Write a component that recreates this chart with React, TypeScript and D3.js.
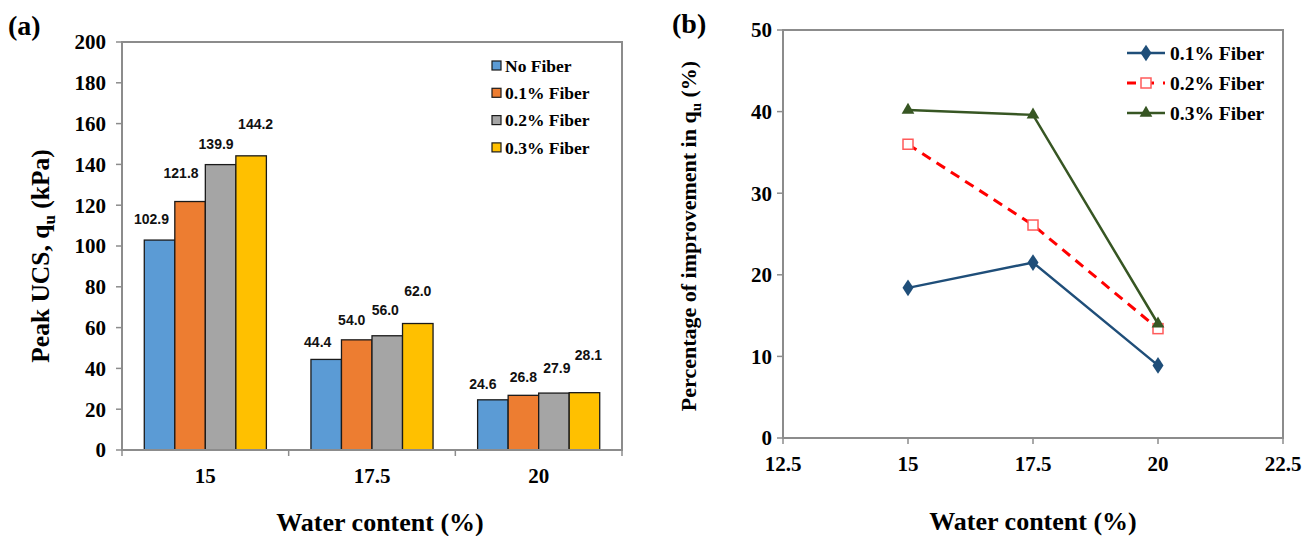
import React from "react";
import * as d3 from "d3";

// ---------- Data ----------
const categoriesA = ["15", "17.5", "20"];
const seriesA = ["No Fiber", "0.1% Fiber", "0.2% Fiber", "0.3% Fiber"];
const noFiber = [102.9, 44.4, 24.6];
const fiber01 = [121.8, 54.0, 26.8];
const fiber02 = [139.9, 56.0, 27.9];
const fiber03 = [144.2, 62.0, 28.1];
const valuesA = [noFiber, fiber01, fiber02, fiber03];
const yTicksA = [0, 20, 40, 60, 80, 100, 120, 140, 160, 180, 200];

const waterB = [15, 17.5, 20];
const impr01 = [18.4, 21.5, 8.9];
const impr02 = [36.0, 26.1, 13.4];
const impr03 = [40.2, 39.6, 14.0];
const seriesB = ["0.1% Fiber", "0.2% Fiber", "0.3% Fiber"];
const xTicksB = [12.5, 15, 17.5, 20, 22.5];
const yTicksB = [0, 10, 20, 30, 40, 50];

// ---------- Styles ----------
const colorsA = ["#5B9BD5", "#ED7D31", "#A5A5A5", "#FFC000"];
const colorsB = ["#1F4E79", "#FF0000", "#375623"];
// label nudges [series][category] (dx, dy of label center from bar top center)
const labelDx = [[-8, -8.5, -10], [-9, -5, 0], [-4.5, -2, 3], [4.5, 0, 4]];
const labelDy = [[-21, -17, -16], [-28, -20, -18], [-21, -26, -25], [-32, -32, -38]];

const SERIF = "'Liberation Serif', 'Times New Roman', serif";
const SANS = "'Liberation Sans', Arial, sans-serif";
const FRAME = "#8c8c8c";

export default function App() {
  // Panel A scales
  const xA = d3.scaleBand().domain(categoriesA).range([122, 622]).padding(0);
  const xS = d3.scaleBand().domain(seriesA).range([0, xA.bandwidth()]).paddingInner(0).paddingOuter(0.73);
  const yA = d3.scaleLinear().domain([0, 200]).range([450, 42]);

  // Panel B scales
  const xB = d3.scaleLinear().domain([12.5, 22.5]).range([783, 1283]);
  const yB = d3.scaleLinear().domain([0, 50]).range([438, 30]);
  const seriesBVals = [impr01, impr02, impr03];
  const line = d3
    .line<number>()
    .x((_, i) => xB(waterB[i]))
    .y((d) => yB(d));

  const diamond = d3.symbol().type(d3.symbolDiamond).size(80)();
  const triangle = d3.symbol().type(d3.symbolTriangle).size(70)();

  const marker = (k: number, x: number, y: number, key: string) => {
    if (k === 0)
      return <path key={key} d={diamond!} transform={`translate(${x},${y}) scale(1.15,1)`} fill={colorsB[0]} />;
    if (k === 1)
      return (
        <rect key={key} x={x - 5} y={y - 5} width={10} height={10} fill="white" stroke="#FF5B5B" strokeWidth={1.5} />
      );
    return <path key={key} d={triangle!} transform={`translate(${x},${y})`} fill={colorsB[2]} />;
  };

  return (
    <svg
      width={1315}
      height={536}
      style={{ position: "absolute", left: 0, top: 0, background: "white" }}
      fontFamily={SERIF}
    >
      <rect x={0} y={0} width={1315} height={536} fill="white" />
      {/* ================= Panel A ================= */}
      <text x={8} y={35} fontSize={28} fontWeight="bold">(a)</text>

      {/* bars */}
      {valuesA.map((vals, s) =>
        vals.map((v, c) => (
          <rect
            key={`b${s}-${c}`}
            x={xA(categoriesA[c])! + xS(seriesA[s])!}
            y={yA(v)}
            width={xS.bandwidth()}
            height={yA(0) - yA(v)}
            fill={colorsA[s]}
            stroke="#1a1a1a"
            strokeWidth={1.3}
          />
        ))
      )}
      {/* data labels */}
      {valuesA.map((vals, s) =>
        vals.map((v, c) => (
          <text
            key={`l${s}-${c}`}
            x={xA(categoriesA[c])! + xS(seriesA[s])! + xS.bandwidth() / 2 + labelDx[s][c]}
            y={yA(v) + labelDy[s][c]}
            dy="0.35em"
            textAnchor="middle"
            fontFamily={SANS}
            fontWeight="bold"
            fontSize={14}
            fill="#111"
          >
            {v.toFixed(1)}
          </text>
        ))
      )}

      {/* frame */}
      <rect x={122} y={42} width={500} height={408} fill="none" stroke={FRAME} strokeWidth={2} />
      {/* y ticks */}
      {yTicksA.map((t) => (
        <g key={`ya${t}`}>
          <line x1={116} x2={122} y1={yA(t)} y2={yA(t)} stroke={FRAME} strokeWidth={1.5} />
          <text x={106} y={yA(t)} dy="0.35em" textAnchor="end" fontSize={21} fontWeight="bold">
            {t}
          </text>
        </g>
      ))}
      {/* x ticks at band edges */}
      {[...categoriesA.map((c) => xA(c)!), 622].map((x, i) => (
        <line key={`xa${i}`} x1={x} x2={x} y1={450} y2={456} stroke={FRAME} strokeWidth={1.5} />
      ))}
      {categoriesA.map((c) => (
        <text key={`xl${c}`} x={xA(c)! + xA.bandwidth() / 2} y={483} textAnchor="middle" fontSize={21} fontWeight="bold">
          {c}
        </text>
      ))}

      {/* legend A */}
      {seriesA.map((s, i) => (
        <g key={`lga${i}`}>
          <rect x={492} y={61 + i * 27.3} width={9} height={9} fill={colorsA[i]} stroke="#1a1a1a" strokeWidth={1.2} />
          <text x={505} y={65.5 + i * 27.3} dy="0.35em" fontSize={17.5} fontWeight="bold">
            {s}
          </text>
        </g>
      ))}

      {/* axis titles A */}
      <text x={380} y={531} textAnchor="middle" fontSize={26} fontWeight="bold">
        Water content (%)
      </text>
      <text transform="translate(49,256) rotate(-90)" textAnchor="middle" fontSize={25.5} fontWeight="bold">
        Peak UCS, q<tspan fontSize={17} dy={6}>u</tspan>
        <tspan dy={-6}> (kPa)</tspan>
      </text>

      {/* ================= Panel B ================= */}
      <text x={672} y={33} fontSize={28} fontWeight="bold">(b)</text>

      <rect x={783} y={30} width={500} height={408} fill="none" stroke={FRAME} strokeWidth={2} />
      {yTicksB.map((t) => (
        <g key={`yb${t}`}>
          <line x1={777} x2={783} y1={yB(t)} y2={yB(t)} stroke={FRAME} strokeWidth={1.5} />
          <text x={772} y={yB(t)} dy="0.35em" textAnchor="end" fontSize={21} fontWeight="bold">
            {t}
          </text>
        </g>
      ))}
      {xTicksB.map((t) => (
        <g key={`xb${t}`}>
          <line x1={xB(t)} x2={xB(t)} y1={438} y2={444} stroke={FRAME} strokeWidth={1.5} />
          <text x={xB(t)} y={471} textAnchor="middle" fontSize={21} fontWeight="bold">
            {t}
          </text>
        </g>
      ))}

      {/* lines */}
      {seriesBVals.map((vals, k) => (
        <path
          key={`ln${k}`}
          d={line(vals)!}
          fill="none"
          stroke={colorsB[k]}
          strokeWidth={k === 1 ? 3 : 2.5}
          strokeDasharray={k === 1 ? "10,7" : undefined}
        />
      ))}
      {seriesBVals.map((vals, k) => vals.map((v, i) => marker(k, xB(waterB[i]), yB(v), `m${k}-${i}`)))}

      {/* legend B */}
      {seriesB.map((s, k) => {
        const y = 53 + k * 30;
        return (
          <g key={`lgb${k}`}>
            <line
              x1={1127}
              x2={1165}
              y1={y}
              y2={y}
              stroke={colorsB[k]}
              strokeWidth={k === 1 ? 3 : 2.5}
              strokeDasharray={k === 1 ? "9,9" : undefined}
            />
            {marker(k, 1146, y, `lm${k}`)}
            <text x={1170} y={y} dy="0.35em" fontSize={19.5} fontWeight="bold">
              {s}
            </text>
          </g>
        );
      })}

      {/* axis titles B */}
      <text x={1033} y={530} textAnchor="middle" fontSize={26} fontWeight="bold">
        Water content (%)
      </text>
      <text transform="translate(696,236) rotate(-90)" textAnchor="middle" fontSize={22} fontWeight="bold">
        Percentage of improvement in q<tspan fontSize={15} dy={5}>u</tspan>
        <tspan dy={-5}> (%)</tspan>
      </text>
    </svg>
  );
}
